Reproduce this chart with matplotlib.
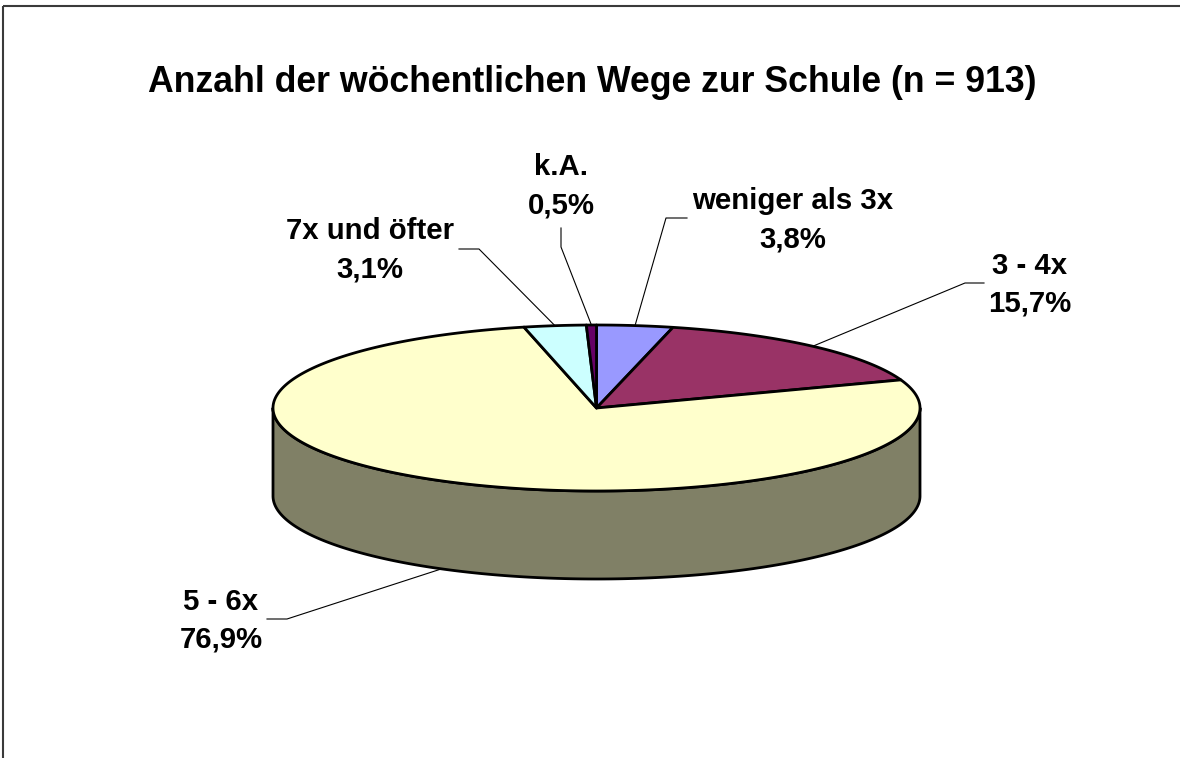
import numpy as np
import matplotlib
matplotlib.use("agg")
import matplotlib.pyplot as plt
from matplotlib.patches import Polygon, Rectangle

plt.rcParams["font.family"] = ["Liberation Sans", "DejaVu Sans"]

TITLE = "Anzahl der wöchentlichen Wege zur Schule (n = 913)"

# slices, clockwise from 12 o'clock
categories = ["weniger als 3x", "3 - 4x", "5 - 6x", "7x und öfter", "k.A."]
shares = [3.8, 15.7, 76.9, 3.1, 0.5]
share_labels = ["3,8%", "15,7%", "76,9%", "3,1%", "0,5%"]
colors = ["#9999FF", "#993366", "#FFFFCC", "#CCFFFF", "#660066"]

# label layout (pixels): text centre x, first baseline, elbow, leader end
label_pos = [
    (793, 209, (666, 218), (687, 218)),
    (1030, 274, (965, 283), (984, 283)),
    (221, 610, (287, 619), (267, 619)),
    (370, 239, (479, 249), (459, 249)),
    (561, 175, (561, 247), (561, 228)),
]

# pie geometry in pixels
CX, CY, RX, RY, DEPTH = 596.5, 408, 323.5, 83, 88


def rim(t, dy=0):
    t = np.radians(t)
    return np.column_stack([CX + RX * np.sin(t), CY + dy - RY * np.cos(t)])


def darker(c, f=0.5):
    rgb = np.array(matplotlib.colors.to_rgb(c))
    return tuple(rgb * f)


fig = plt.figure(figsize=(11.8, 7.58), dpi=100)
ax = fig.add_axes([0, 0, 1, 1])
ax.set_xlim(0, 1180)
ax.set_ylim(758, 0)
ax.axis("off")

# chart area frame (right and bottom edge lie outside the picture)
ax.add_patch(Rectangle((3, 6), 1400, 1000, fill=False, ec="#3a3a3a", lw=1.5))

ax.text(592, 92, TITLE, ha="center", va="baseline",
        fontsize=25.7, fontweight="bold")

edges = np.concatenate([[0], np.cumsum(shares)]) * 3.6

# visible side walls (front half)
for i in range(len(shares)):
    a0, a1 = max(edges[i], 90), min(edges[i + 1], 270)
    if a1 > a0:
        t = np.linspace(a0, a1, 300)
        pts = np.vstack([rim(t), rim(t[::-1], DEPTH)])
        ax.add_patch(Polygon(pts, closed=True, fc=darker(colors[i]),
                             ec="black", lw=2.0, joinstyle="round"))

# top face
for i in range(len(shares)):
    n = max(int(edges[i + 1] - edges[i]) * 3, 4)
    t = np.linspace(edges[i], edges[i + 1], n)
    pts = np.vstack([[CX, CY], rim(t)])
    ax.add_patch(Polygon(pts, closed=True, fc=colors[i],
                         ec="black", lw=2.0, joinstyle="round"))

# labels with leader lines
for i in range(len(shares)):
    mid = (edges[i] + edges[i + 1]) / 2
    if 90 < mid < 270:
        anchor = rim([mid], DEPTH)[0]
    else:
        anchor = rim([mid])[0]
    tx, base, elbow, end = label_pos[i]
    ax.plot([anchor[0], elbow[0], end[0]], [anchor[1], elbow[1], end[1]],
            color="black", lw=0.8)
    ax.text(tx, base, categories[i], ha="center", va="baseline",
            fontsize=21.2, fontweight="bold")
    ax.text(tx, base + 38, share_labels[i], ha="center", va="baseline",
            fontsize=21.2, fontweight="bold")

fig.savefig("out.png", dpi=100)
